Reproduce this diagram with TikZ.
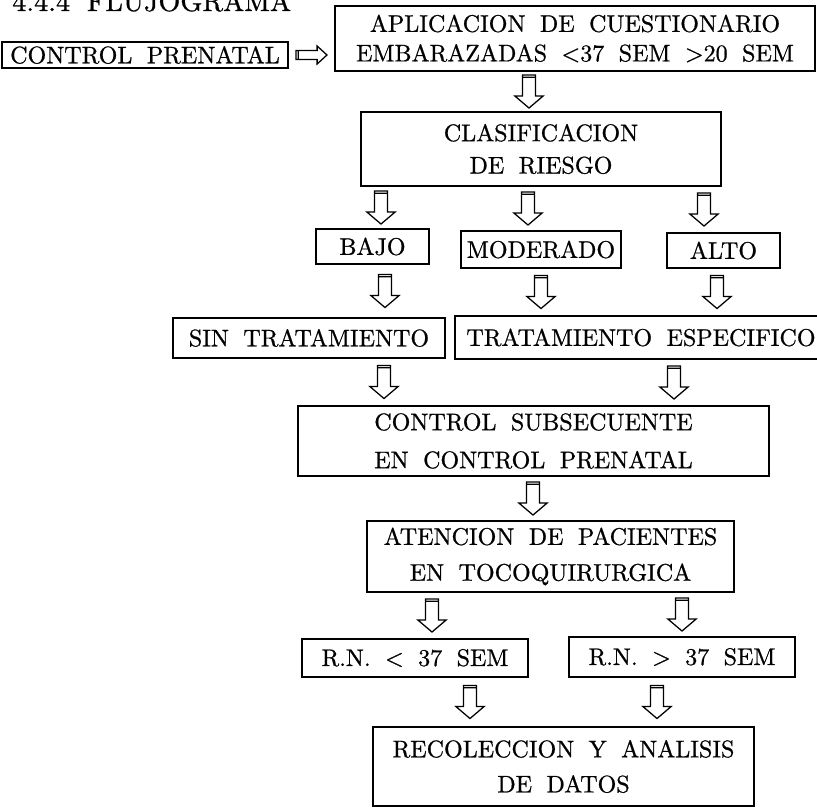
\documentclass[tikz,border=0pt]{standalone}
\usepackage{fontspec}
\usepackage{tikz}
\usetikzlibrary{calc,positioning}

%etwas kraeftigere Latin Modern wie im gedruckten Original
\newfontfamily\schrift{lmroman10-regular.otf}[FakeBold=0.8]
%Masse der Hohlpfeile in pt
\def\pflen{23.5}
\def\pfsw{4.6}
\def\pfhw{10}
\def\pfhl{8.5}
%weite Wortabstaende wie auf der Schreibmaschine
\newcommand{\weit}{\spaceskip 0.6em\relax}

\tikzset{
  kasten/.style 2 args={draw, line width=0.9pt, inner sep=0pt, align=center,
    minimum width=#1*0.025cm, minimum height=#2*0.025cm,
    font=\schrift\fontsize{17.1}{21}\selectfont\weit},
  pfeil/.style={draw, line width=0.9pt, to path={
    let \p1=(\tikztostart), \p2=(\tikztotarget),
        \n1={veclen(\x2-\x1,\y2-\y1)}, \n2={atan2(\y2-\y1,\x2-\x1)},
        \n3={(\n1-\pflen)/2}, \n4={(\n1+\pflen)/2}, \n5={(\n1+\pflen)/2-\pfhl} in
    [shift={(\p1)}, rotate=\n2, x=1pt, y=1pt]
    (\n3,-\pfsw) -- (\n5,-\pfsw) -- (\n5,-\pfhw) -- (\n4,0) -- (\n5,\pfhw)
    -- (\n5,\pfsw) -- (\n3,\pfsw) -- cycle
    (\n3+1.6,-\pfsw) -- (\n3+1.6,\pfsw)}},
  klein/.style={/utils/exec={\def\pflen{22}\def\pfsw{3.2}\def\pfhw{6.4}\def\pfhl{7}}}
}

\begin{document}
\begin{tikzpicture}[x=0.025cm,y=-0.025cm]
%Alles in Pixeln des Bildes (817 x 808), y nach unten
\useasboundingbox (0,0) rectangle (817,808);
\node[anchor=base west, inner sep=0pt, font=\schrift\fontsize{20}{24}\selectfont\weit] (titel) at (12,11) {4.4.4 FLUJOGRAMA};
\node[kasten={286}{26}] (prenatal) at (145,55) {CONTROL PRENATAL};
\node[kasten={480}{65}] (cuest) at (575,38.5) {APLICACION DE CUESTIONARIO\\EMBARAZADAS <37 SEM >20 SEM};
\node[kasten={360}{74}] (riesgo) at (541,149) {CLASIFICACION\\[2pt]DE RIESGO};
\node[kasten={113}{35}] (bajo) at (372.5,246.5) {BAJO};
\node[kasten={160}{37}] (moder) at (541,249.5) {MODERADO};
\node[kasten={113}{35}] (alto) at (723.5,250.5) {ALTO};
\node[kasten={272}{40}] (sintrat) at (309,338) {SIN TRATAMIENTO};
\node[kasten={372}{43}] (trat) at (641,337.5) {TRATAMIENTO ESPECIFICO};
\node[kasten={471}{70}] (subsec) at (533.5,441) {CONTROL SUBSECUENTE\\[6pt]EN CONTROL PRENATAL};
\node[kasten={367}{71}] (atencion) at (550.5,556.5) {ATENCION DE PACIENTES\\[4.5pt]EN TOCOQUIRURGICA};
\node[kasten={226}{38}] (rnmenor) at (415,658) {R.N. < 37 SEM};
\node[kasten={226}{40}] (rnmayor) at (682,657) {R.N. > 37 SEM};
\node[kasten={381}{79}] (datos) at (563.5,766.5) {RECOLECCION Y ANALISIS\\[4pt]DE DATOS};
%Pfeil nach rechts
\path (prenatal.east) coordinate (s) (cuest.west |- prenatal.east) coordinate (z);
\draw[pfeil,klein] (s) to (z);
%Pfeile nach unten: von/nach/x
\foreach \von/\nach/\xp in {cuest/riesgo/529, riesgo/bajo/381, riesgo/moder/528, riesgo/alto/704,
  bajo/sintrat/385, moder/trat/541, alto/trat/717, sintrat/subsec/384, trat/subsec/674,
  subsec/atencion/533, atencion/rnmenor/432, atencion/rnmayor/682, rnmenor/datos/470, rnmayor/datos/657}{
\path (\von.south -| \xp,0) coordinate (s) (\nach.north -| \xp,0) coordinate (z);
\draw[pfeil] (s) to (z);
}
\end{tikzpicture}
\end{document}
